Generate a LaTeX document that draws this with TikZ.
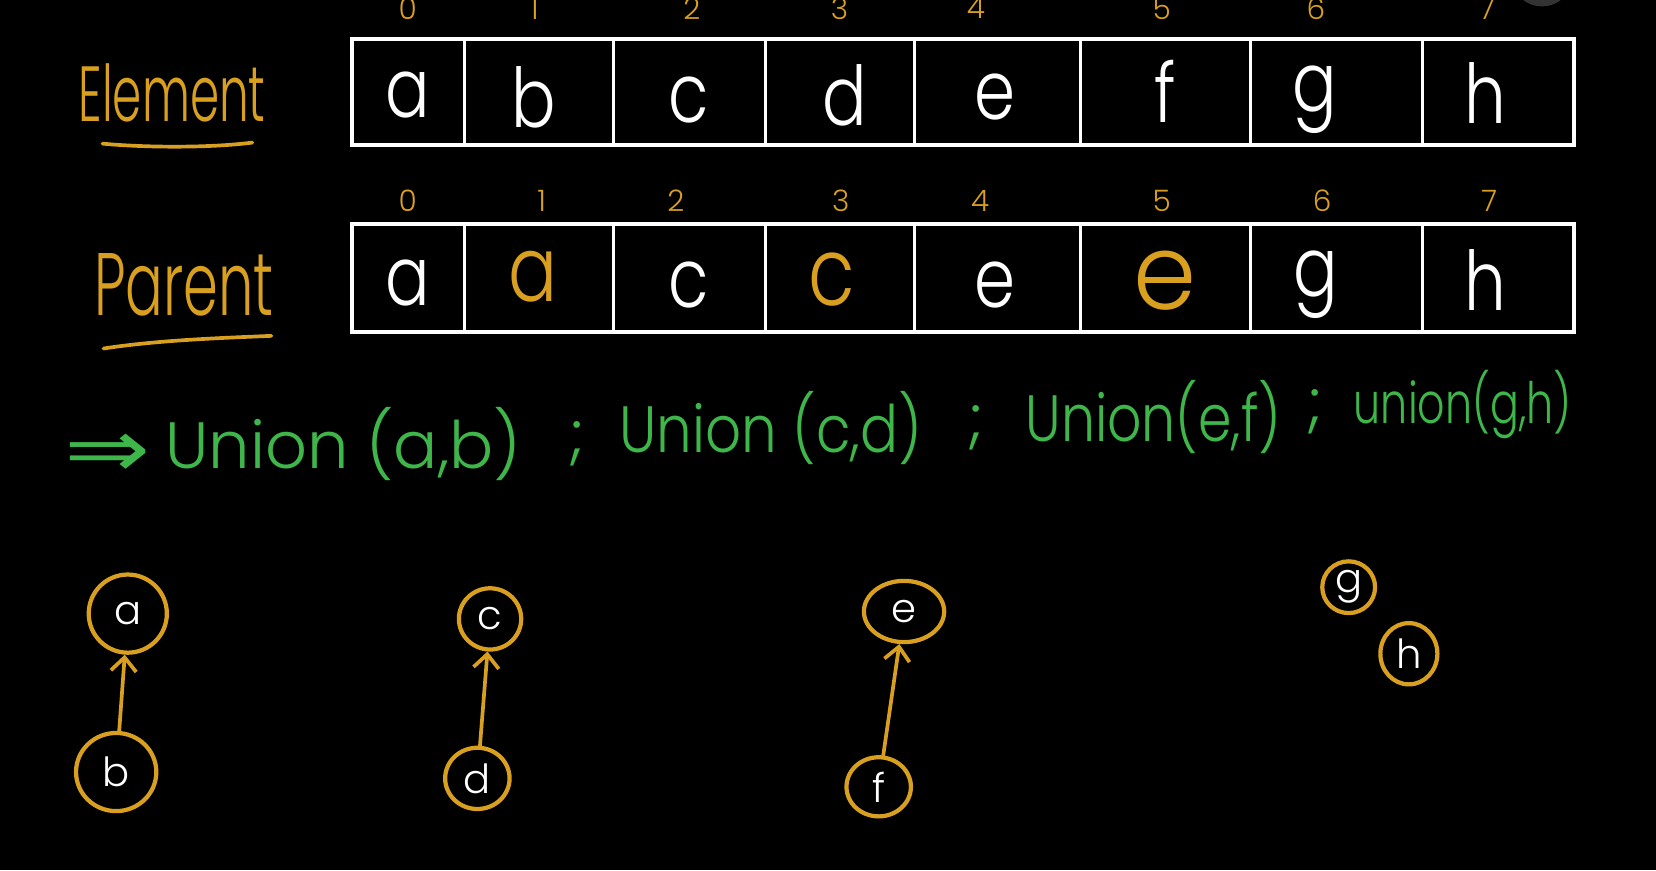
\documentclass[tikz,border=0pt]{standalone}
\usepackage{fontspec}
\setmainfont{Poppins}[UprightFont=* Light]
\newfontfamily\symfont{DejaVu Sans}
\usetikzlibrary{arrows.meta,shapes.geometric}
\definecolor{gold}{RGB}{217,160,32}
\definecolor{chalkgreen}{RGB}{62,182,74}
\begin{document}
\begin{tikzpicture}[x=1pt,y=-1pt,
  board/.style={draw=white, line width=4pt},
  cell/.style={text=white, inner sep=0pt, xscale=0.8, font=\fontsize{78}{80}\selectfont},
  goldcell/.style={cell, text=gold},
  idx/.style={text=gold, inner sep=0pt, font=\fontsize{28}{30}\selectfont},
  lbl/.style={text=gold, inner sep=0pt, font=\fontsize{74}{76}\selectfont},
  uline/.style={draw=gold, line width=3.5pt, line cap=round},
  chalk/.style={text=chalkgreen, inner sep=0pt, font=\fontsize{62}{64}\selectfont},
  vert/.style={ellipse, draw=gold, line width=4pt, inner sep=0pt, text=white,
               font=\fontsize{38}{40}\selectfont},
  link/.style={draw=gold, line width=3.5pt, line cap=round,
               -{Straight Barb[length=13pt,width=24pt,line width=3.5pt]}}]
\fill[black] (0,0) rectangle (1568,824);
\useasboundingbox (0,0) rectangle (1568,824);
% pointer blob at the top edge
\fill[black!80!white] (1460,-20) ellipse (28pt and 26pt);

% ---- Element array ----
\draw[board] (333,37) rectangle (1490,137);
\foreach \x in {440,581,725,866,1023,1184,1347}
  \draw[board, line width=3pt] (\x,37) -- (\x,137);
\node[cell] (e0) at (386,90) {a};
\node[cell] (e1) at (505,92) {b};
\node[cell] (e2) at (652,95) {c};
\node[cell] (e3) at (800,90) {d};
\node[cell] (e4) at (942,92) {e};
\node[cell] (e5) at (1103,86) {f};
\node[cell] (e6) at (1245,94) {g};
\node[cell] (e7) at (1406,88) {h};
\foreach \i/\x in {0/386,1/506,2/655,3/795,4/924,5/1100,6/1246,7/1408}
  \node[idx] (ei\i) at (\x,8) {\i};

% ---- Parent array ----
\draw[board] (333,212) rectangle (1490,314);
\foreach \x in {440,581,725,866,1023,1184,1347}
  \draw[board, line width=3pt] (\x,212) -- (\x,314);
\node[cell] (p0) at (386,268) {a};
\node[goldcell, font=\fontsize{86}{86}\selectfont] (p1) at (505,262) {a};
\node[cell] (p2) at (652,270) {c};
\node[goldcell, font=\fontsize{90}{90}\selectfont] (p3) at (788,265) {c};
\node[cell] (p4) at (942,270) {e};
\node[goldcell, xscale=1.2, font=\fontsize{100}{100}\selectfont] (p5) at (1103,266) {e};
\node[cell] (p6) at (1246,270) {g};
\node[cell] (p7) at (1406,265) {h};
\foreach \i/\x in {0/386,1/513,2/640,3/796,4/928,5/1100,6/1252,7/1410}
  \node[idx] (pi\i) at (\x,190) {\i};

% ---- row labels ----
\node[lbl, xscale=0.60] (elabel) at (163,88) {Element};
\draw[uline] (97,136) .. controls (140,140) and (200,140) .. (239,135);
\node[lbl, xscale=0.63, font=\fontsize{84}{86}\selectfont] (plabel) at (174,270) {Parent};
\draw[uline] (98,330) .. controls (150,322) and (210,320) .. (257,318);

% ---- union operations ----
\node[chalk, xscale=1.25, font=\symfont\fontsize{78}{80}\selectfont] (imp) at (102,432) {⇒};
\node[chalk] (u1) at (325,420) {Union (a,b)};
\node[chalk] (s1) at (546,420) {;};
\node[chalk, xscale=0.86] (u2) at (730,405) {Union (c,d)};
\node[chalk] (s2) at (924,405) {;};
\node[chalk, xscale=0.82] (u3) at (1092,395) {Union(e,f)};
\node[chalk] (s3) at (1245,390) {;};
\node[chalk, xscale=0.75, font=\fontsize{54}{56}\selectfont] (u4) at (1385,383) {union(g,h)};

% ---- resulting trees ----
\node[vert, minimum width=74pt, minimum height=74pt] (a) at (121,581) {a};
\node[vert, minimum width=76pt, minimum height=74pt] (b) at (110,731) {b};
\node[vert, minimum width=59pt, minimum height=58pt] (c) at (464,586) {c};
\node[vert, minimum width=61pt, minimum height=58pt] (d) at (452,737) {d};
\node[vert, minimum width=76pt, minimum height=58pt] (e) at (856,579) {e};
\node[vert, minimum width=61pt, minimum height=56pt] (f) at (832,745) {f};
\node[vert, minimum width=50pt, minimum height=49pt] (g) at (1277,556) {g};
\node[vert, minimum width=54pt, minimum height=58pt] (h) at (1334,619) {h};
\draw[link] (b) -- (a);
\draw[link] (d) -- (c);
\draw[link] (f) -- (e);
\end{tikzpicture}
\end{document}
